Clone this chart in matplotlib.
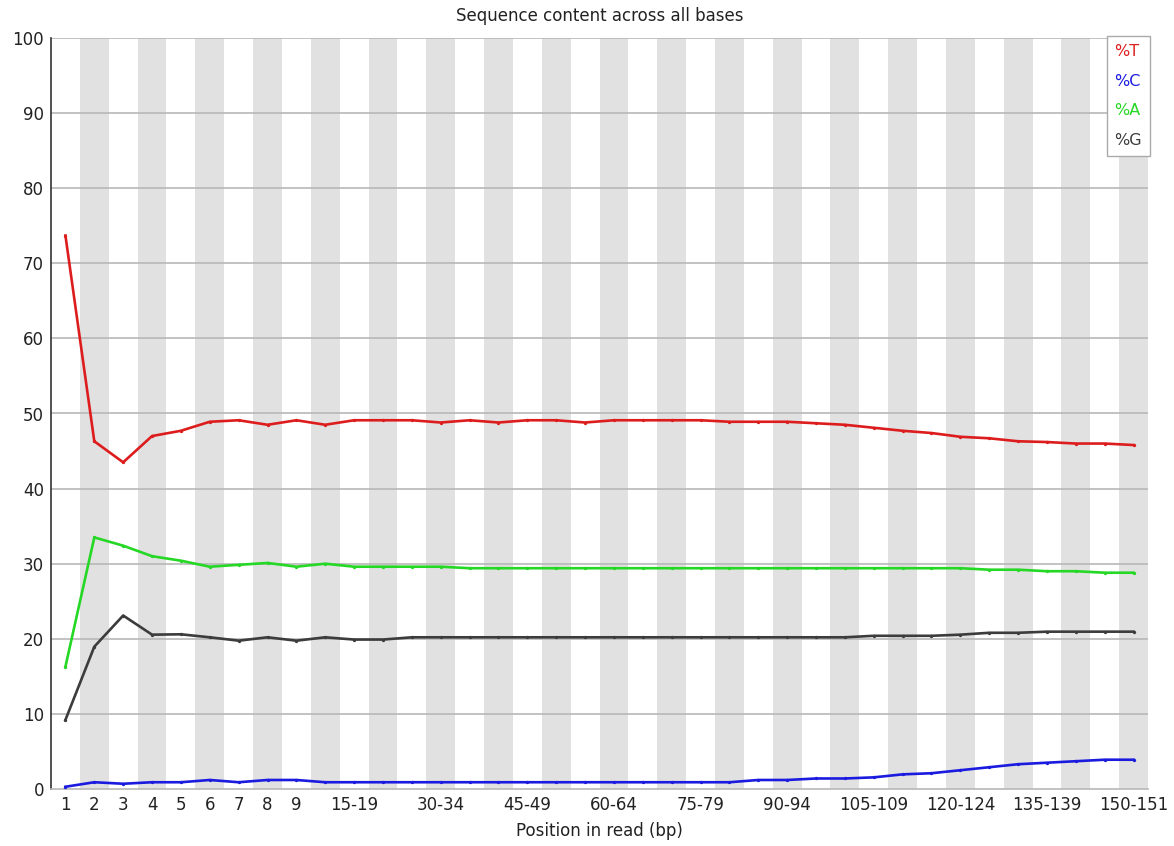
import numpy as np
import matplotlib
matplotlib.use('Agg')
import matplotlib.pyplot as plt

# Posicoes na leitura (bp)
posicoes = ['1', '2', '3', '4', '5', '6', '7', '8', '9',
            '10-14', '15-19', '20-24', '25-29', '30-34', '35-39', '40-44',
            '45-49', '50-54', '55-59', '60-64', '65-69', '70-74', '75-79',
            '80-84', '85-89', '90-94', '95-99', '100-104', '105-109',
            '110-114', '115-119', '120-124', '125-129', '130-134',
            '135-139', '140-144', '145-149', '150-151']

pct_T = [73.7, 46.3, 43.5, 47.0, 47.7, 48.9, 49.1, 48.5, 49.1,
         48.5, 49.1, 49.1, 49.1, 48.8, 49.1, 48.8,
         49.1, 49.1, 48.8, 49.1, 49.1, 49.1, 49.1,
         48.9, 48.9, 48.9, 48.7, 48.5, 48.1,
         47.7, 47.4, 46.9, 46.7, 46.3,
         46.2, 46.0, 46.0, 45.8]

pct_C = [0.3, 0.9, 0.7, 0.9, 0.9, 1.2, 0.9, 1.2, 1.2,
         0.9, 0.9, 0.9, 0.9, 0.9, 0.9, 0.9,
         0.9, 0.9, 0.9, 0.9, 0.9, 0.9, 0.9,
         0.9, 1.2, 1.2, 1.4, 1.4, 1.55,
         1.95, 2.1, 2.5, 2.9, 3.3,
         3.5, 3.7, 3.9, 3.9]

pct_A = [16.3, 33.5, 32.4, 31.0, 30.4, 29.6, 29.85, 30.1, 29.6,
         30.0, 29.6, 29.6, 29.6, 29.6, 29.4, 29.4,
         29.4, 29.4, 29.4, 29.4, 29.4, 29.4, 29.4,
         29.4, 29.4, 29.4, 29.4, 29.4, 29.4,
         29.4, 29.4, 29.4, 29.2, 29.2,
         29.0, 29.0, 28.8, 28.8]

pct_G = [9.2, 18.95, 23.1, 20.55, 20.6, 20.2, 19.75, 20.2, 19.75,
         20.2, 19.9, 19.9, 20.2, 20.2, 20.2, 20.2,
         20.2, 20.2, 20.2, 20.2, 20.2, 20.2, 20.2,
         20.2, 20.2, 20.2, 20.2, 20.2, 20.4,
         20.4, 20.4, 20.55, 20.8, 20.8,
         20.95, 20.95, 20.95, 20.95]

# rotulos mostrados no eixo x
rotulos_visiveis = ['1', '2', '3', '4', '5', '6', '7', '8', '9', '15-19',
                    '30-34', '45-49', '60-64', '75-79', '90-94', '105-109',
                    '120-124', '135-139', '150-151']

cor_texto = '#222222'
plt.rcParams['font.family'] = ['DejaVu Sans']

fig = plt.figure(figsize=(11.74, 8.46), dpi=100)
ax = fig.add_axes([51 / 1174, 57 / 846, 1097 / 1174, 751 / 846])

x = np.arange(len(posicoes))

# faixas cinzas alternadas
for i in x:
    if i % 2 == 1:
        ax.axvspan(i - 0.5, i + 0.5, color='#e1e1e1', lw=0, zorder=0)

# grade horizontal
for v in range(10, 101, 10):
    ax.axhline(v, color='#b8b8b8', lw=1.2, zorder=1)

ax.plot(x, pct_T, color='#dd1d1d', lw=1.9, marker='o', ms=1.4, label='%T', zorder=3)
ax.plot(x, pct_C, color='#1b1be0', lw=1.9, marker='o', ms=1.4, label='%C', zorder=3)
ax.plot(x, pct_A, color='#25d825', lw=1.9, marker='o', ms=1.4, label='%A', zorder=3)
ax.plot(x, pct_G, color='#3c3c3c', lw=1.9, marker='o', ms=1.4, label='%G', zorder=3)

ax.set_xlim(-0.5, len(posicoes) - 0.5)
ax.set_ylim(0, 100)

ax.set_yticks(range(0, 101, 10))
ax.set_yticklabels([str(v) for v in range(0, 101, 10)], fontsize=12, color=cor_texto)
ax.set_xticks(x)
ax.set_xticklabels([p if p in rotulos_visiveis else '' for p in posicoes],
                   fontsize=12, color=cor_texto)
ax.tick_params(axis='both', length=0, pad=5)

for lado in ['top', 'right']:
    ax.spines[lado].set_visible(False)
ax.spines['left'].set_color('#333333')
ax.spines['left'].set_linewidth(1.2)
ax.spines['bottom'].set_color('#b8b8b8')
ax.spines['bottom'].set_linewidth(1.2)

ax.set_title('Sequence content across all bases', fontsize=12, color=cor_texto, pad=12)
ax.set_xlabel('Position in read (bp)', fontsize=12, color=cor_texto, labelpad=6)

leg = ax.legend(loc='upper right', bbox_to_anchor=(1.002, 1.002), handlelength=0,
                handletextpad=0, labelcolor='linecolor', fontsize=11.5,
                fancybox=False, framealpha=1, edgecolor='#aaaaaa',
                borderpad=0.5, labelspacing=0.9, borderaxespad=0)
for h in leg.legend_handles:
    h.set_visible(False)
leg.get_frame().set_linewidth(1.0)

plt.savefig('out.png', dpi=100)
